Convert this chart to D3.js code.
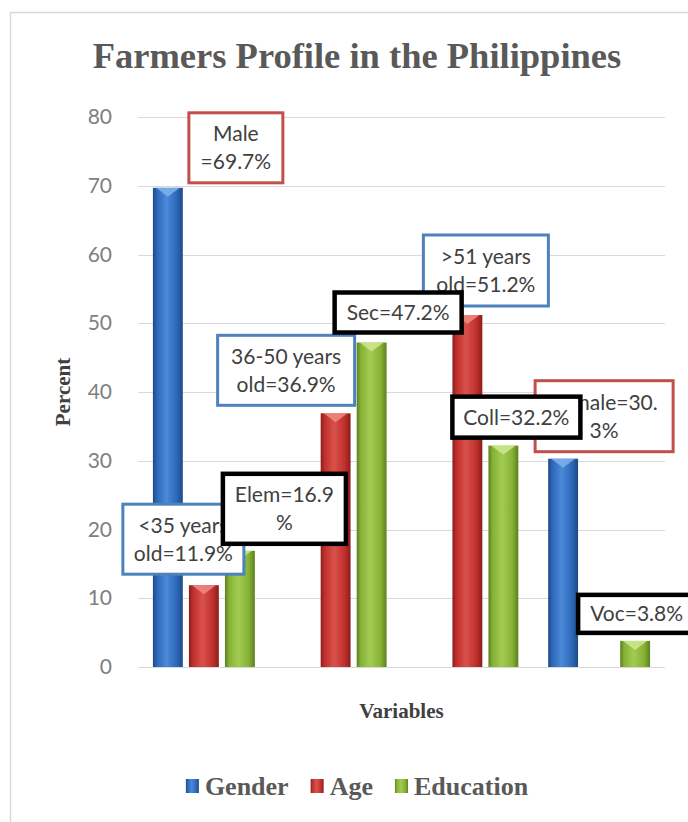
<!DOCTYPE html>
<html>
<head>
<meta charset="utf-8">
<script src="https://cdn.jsdelivr.net/npm/d3@7"></script>
<style>
  body { margin:0; background:#fff; }
  svg { display:block; }
</style>
</head>
<body>
<svg width="688" height="822"></svg>
<script>
// chart data
var categories = ["G1", "G2", "G3", "G4"];
var seriesNames = ["Gender", "Age", "Education"];
var gender = [69.7, null, null, 30.3];
var age = [11.9, 36.9, 51.2, null];
var education = [16.9, 47.2, 32.2, 3.8];
var yTicks = [0, 10, 20, 30, 40, 50, 60, 70, 80];

// callout texts (one per bar, null = no callout)
var genderLabels = ["Male\n=69.7%", null, null, "Female=30.\n3%"];
var ageLabels = ["<35 years\nold=11.9%", "36-50 years\nold=36.9%", ">51 years\nold=51.2%", null];
var educationLabels = ["Elem=16.9\n%", "Sec=47.2%", "Coll=32.2%", "Voc=3.8%"];

// callout box placement, px offsets from the bar's top centre
var genderBoxes = [{dx:21, dy:-75, w:94, h:70}, null, null, {dx:-28, dy:-78, w:138, h:71}];
var ageBoxes = [{dx:-81, dy:-81, w:121, h:70}, {dx:-118, dy:-78, w:137, h:70}, {dx:-44, dy:-80, w:125, h:71}, null];
var educationBoxes = [{dx:-17, dy:-77, w:123, h:70}, {dx:-37, dy:-50, w:127, h:40}, {dx:-51, dy:-49, w:128, h:41}, {dx:-57, dy:-46, w:117, h:38}];

var seriesColors = [
  {dark:"#1d4a86", base:"#2c68b8", light:"#4b8ad8", tri:"#7fb0ec", frame:"#c0504d"},
  {dark:"#8a1d1a", base:"#c0302c", light:"#d9514b", tri:"#f08a84", frame:"#4f81bd"},
  {dark:"#5d7f1f", base:"#86b236", light:"#a3cb52", tri:"#cfe88f", frame:"#000000"}
];

function draw()
{
  var svg = d3.select("svg");
  var left = 138, right = 665, top = 117, bottom = 667;

  var series = [gender, age, education];
  var labels = [genderLabels, ageLabels, educationLabels];
  var boxes = [genderBoxes, ageBoxes, educationBoxes];

  // chart frame
  svg.append("rect")
    .attr("x", 10.5).attr("y", 12.5)
    .attr("width", 720).attr("height", 830)
    .attr("fill", "#fff")
    .attr("stroke", "#d9d9d9")
    .attr("stroke-width", 1.5);

  var defs = svg.append("defs");
  for(var s=0;s<seriesColors.length;s++)
  {
    var c = seriesColors[s];
    var g = defs.append("linearGradient").attr("id", "grad"+s)
      .attr("x1", "0%").attr("x2", "100%").attr("y1", "0%").attr("y2", "0%");
    g.append("stop").attr("offset", "0%").attr("stop-color", c.dark);
    g.append("stop").attr("offset", "14%").attr("stop-color", c.base);
    g.append("stop").attr("offset", "45%").attr("stop-color", c.light);
    g.append("stop").attr("offset", "80%").attr("stop-color", c.base);
    g.append("stop").attr("offset", "100%").attr("stop-color", c.dark);
  }

  var x0 = d3.scaleBand().domain(categories).range([left, right])
    .paddingInner(0.18).paddingOuter(0.09);
  var x1 = d3.scaleBand().domain(seriesNames).range([0, x0.bandwidth()])
    .paddingInner(0.17).paddingOuter(0.085);
  var y = d3.scaleLinear().domain([0, 80]).range([bottom, top]);

  // gridlines
  svg.append("g").selectAll("line.grid")
    .data(yTicks).enter()
    .append("line")
    .attr("class", "grid")
    .attr("x1", left).attr("x2", right)
    .attr("y1", d => Math.round(y(d)) + 0.5)
    .attr("y2", d => Math.round(y(d)) + 0.5)
    .attr("stroke", "#d9d9d9")
    .attr("stroke-width", 1.2);

  // y tick labels
  var yAxis = d3.axisLeft(y).tickValues(yTicks).tickSize(0).tickPadding(0);
  var ag = svg.append("g").attr("transform", "translate(112,0)").call(yAxis);
  ag.select(".domain").remove();
  ag.selectAll("text")
    .style("font-family", "Lato, 'Open Sans', sans-serif")
    .style("font-size", "21px")
    .attr("fill", "#808080");

  // bars
  var bars = [];
  for(var s=0;s<series.length;s++)
  {
    for(var i=0;i<categories.length;i++)
    {
      if(series[s][i]==null)continue;
      bars.push({s:s, i:i, value:series[s][i], label:labels[s][i], box:boxes[s][i]});
    }
  }

  var bg = svg.append("g");
  bg.selectAll("rect.bar")
    .data(bars).enter()
    .append("rect")
    .attr("class", "bar")
    .attr("x", d => x0(categories[d.i]) + x1(seriesNames[d.s]))
    .attr("y", d => y(d.value))
    .attr("width", x1.bandwidth())
    .attr("height", d => y(0) - y(d.value))
    .attr("fill", d => "url(#grad" + d.s + ")");

  // little bevel triangle at the top of each bar
  bg.selectAll("polygon.bevel")
    .data(bars).enter()
    .append("polygon")
    .attr("class", "bevel")
    .attr("points", function(d) {
      var bx = x0(categories[d.i]) + x1(seriesNames[d.s]);
      var bw = x1.bandwidth();
      var by = y(d.value);
      var th = Math.min(9, (y(0) - by) * 0.6);
      return (bx+3)+","+by+" "+(bx+bw-3)+","+by+" "+(bx+bw/2)+","+(by+th);
    })
    .attr("fill", d => seriesColors[d.s].tri)
    .attr("opacity", 0.85);

  // callouts, drawn in series order so the black ones sit on top
  var lg = svg.append("g");
  for(var k=0;k<bars.length;k++)
  {
    var d = bars[k];
    if(d.label==null)continue;
    var cx = x0(categories[d.i]) + x1(seriesNames[d.s]) + x1.bandwidth()/2;
    var ty = y(d.value);
    var bx = cx + d.box.dx, byy = ty + d.box.dy;
    var sw = d.s==2 ? 4.5 : 3;
    var g = lg.append("g");
    g.append("rect")
      .attr("x", bx).attr("y", byy)
      .attr("width", d.box.w).attr("height", d.box.h)
      .attr("fill", "#fff")
      .attr("stroke", seriesColors[d.s].frame)
      .attr("stroke-width", sw);
    var lines = d.label.split("\n");
    var midY = byy + d.box.h/2;
    for(var j=0;j<lines.length;j++)
    {
      g.append("text")
        .attr("x", bx + d.box.w/2)
        .attr("y", midY + (j - (lines.length-1)/2) * 28)
        .attr("dy", "0.36em")
        .attr("text-anchor", "middle")
        .style("font-family", "Lato, 'Open Sans', sans-serif")
        .style("font-size", "21px")
        .attr("fill", "#404040")
        .text(lines[j]);
    }
  }

  // title and axis titles
  svg.append("text")
    .attr("x", 357).attr("y", 68)
    .attr("text-anchor", "middle")
    .style("font-family", "'Liberation Serif', 'Times New Roman', serif")
    .style("font-weight", "bold")
    .style("font-size", "36.5px")
    .attr("fill", "#595959")
    .text("Farmers Profile in the Philippines");

  svg.append("text")
    .attr("transform", "translate(70,392) rotate(-90)")
    .attr("text-anchor", "middle")
    .style("font-family", "'Liberation Serif', 'Times New Roman', serif")
    .style("font-weight", "bold")
    .style("font-size", "21px")
    .attr("fill", "#404040")
    .text("Percent");

  svg.append("text")
    .attr("x", (left+right)/2).attr("y", 718)
    .attr("text-anchor", "middle")
    .style("font-family", "'Liberation Serif', 'Times New Roman', serif")
    .style("font-weight", "bold")
    .style("font-size", "21px")
    .attr("fill", "#404040")
    .text("Variables");

  // legend
  var leg = svg.append("g");
  var lx = 0;
  for(var s=0;s<seriesNames.length;s++)
  {
    var it = leg.append("g").attr("transform", "translate(" + lx + ",0)");
    it.append("rect")
      .attr("x", 0).attr("y", -7)
      .attr("width", 13).attr("height", 14)
      .attr("fill", "url(#grad" + s + ")");
    var t = it.append("text")
      .attr("x", 19).attr("y", 0)
      .attr("dy", "0.35em")
      .style("font-family", "'Liberation Serif', 'Times New Roman', serif")
      .style("font-weight", "bold")
      .style("font-size", "26px")
      .attr("fill", "#595959")
      .text(seriesNames[s]);
    lx += 19 + t.node().getComputedTextLength() + 22;
  }
  var legW = lx - 22;
  leg.attr("transform", "translate(" + (357 - legW/2) + ",786)");
}

draw();
</script>
</body>
</html>
